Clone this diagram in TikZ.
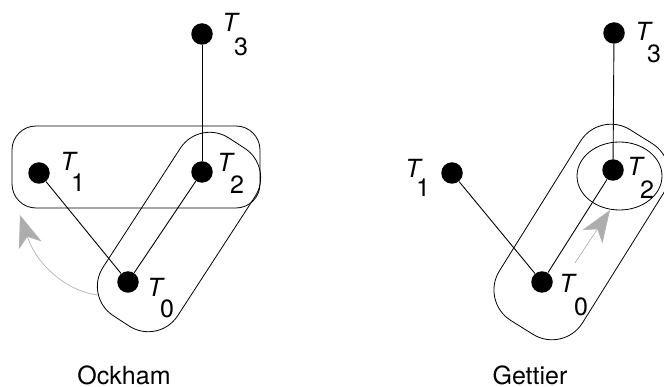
\documentclass[tikz,border=0pt]{standalone}
\usepackage{fontspec}
\setmainfont{TeX Gyre Heros}
\usetikzlibrary{arrows.meta,shapes}

\begin{document}
\begin{tikzpicture}[x=1pt,y=-1pt,line width=0.8pt,font=\fontsize{25}{30}\selectfont,
	dot/.style={circle,fill=black,inner sep=0pt,minimum size=21.5pt},
	tname/.style={inner sep=0pt,font=\fontsize{25}{30}\selectfont\itshape},
	tsub/.style={inner sep=0pt},
	blob/.style={draw,rounded corners=#1,inner sep=0pt},
	hint/.style={draw=black!30,line width=0.7pt,-{Stealth[length=32pt,width=24pt,inset=9pt,fill=black!32]}}]
			\useasboundingbox (0,0) rectangle (664,387);
			\node[blob=24pt,minimum width=248pt,minimum height=82pt] (opair) at (136,167) {};
			\node[blob=35pt,rotate=57,minimum width=212pt,minimum height=89pt] (otilt) at (179,232) {};
			\node[blob=36pt,rotate=58,minimum width=225pt,minimum height=98pt] (gtilt) at (581.5,232) {};
			\node[draw,ellipse,inner sep=0pt,minimum width=85pt,minimum height=68pt] (gring) at (619.5,176) {};
			\node[dot] (o3) at (202,34) {};
			\node[dot] (o1) at (39,173) {};
			\node[dot] (o2) at (202,172) {};
			\node[dot] (o0) at (128,282) {};
			\node[dot] (g3) at (614,33) {};
			\node[dot] (g1) at (452,173) {};
			\node[dot] (g2) at (613,170) {};
			\node[dot] (g0) at (542,282) {};
			\draw[line width=0.9pt] (o3) -- (o2);
			\draw[line width=0.9pt] (o1) -- (o0);
			\draw[line width=0.9pt] (o2) -- (o0);
			\draw[line width=0.9pt] (g3) -- (g2);
			\draw[line width=0.9pt] (g1) -- (g0);
			\draw[line width=0.9pt] (g2) -- (g0);
			\coordinate (ofrom) at (98,295);
			\coordinate (oto) at (20,215);
			\draw[hint] (ofrom) .. controls (70,292) and (38,268) .. (oto);
			\coordinate (gfrom) at (575,263);
			\coordinate (gto) at (610,210);
			\draw[hint] (gfrom) -- (gto);
			\node[tname] (o3t) at (230,22) {T};
			\node[tsub] (o3s) at (241,47) {3};
			\node[tname] (o1t) at (68,161) {T};
			\node[tsub] (o1s) at (78,183) {1};
			\node[tname] (o2t) at (225,162) {T};
			\node[tsub] (o2s) at (237,185) {2};
			\node[tname] (o0t) at (155,287) {T};
			\node[tsub] (o0s) at (167,309) {0};
			\node[tname] (g3t) at (643,31) {T};
			\node[tsub] (g3s) at (654,54) {3};
			\node[tname] (g1t) at (413,168) {T};
			\node[tsub] (g1s) at (423,188) {1};
			\node[tname] (g2t) at (635,166) {T};
			\node[tsub] (g2s) at (647,190) {2};
			\node[tname] (g0t) at (567,283) {T};
			\node[tsub] (g0s) at (581,307) {0};
			\node[anchor=base,inner sep=0pt] (ockham) at (124,384) {Ockham};
			\node[anchor=base,inner sep=0pt] (gettier) at (530,384) {Gettier};
		\end{tikzpicture}
\end{document}
